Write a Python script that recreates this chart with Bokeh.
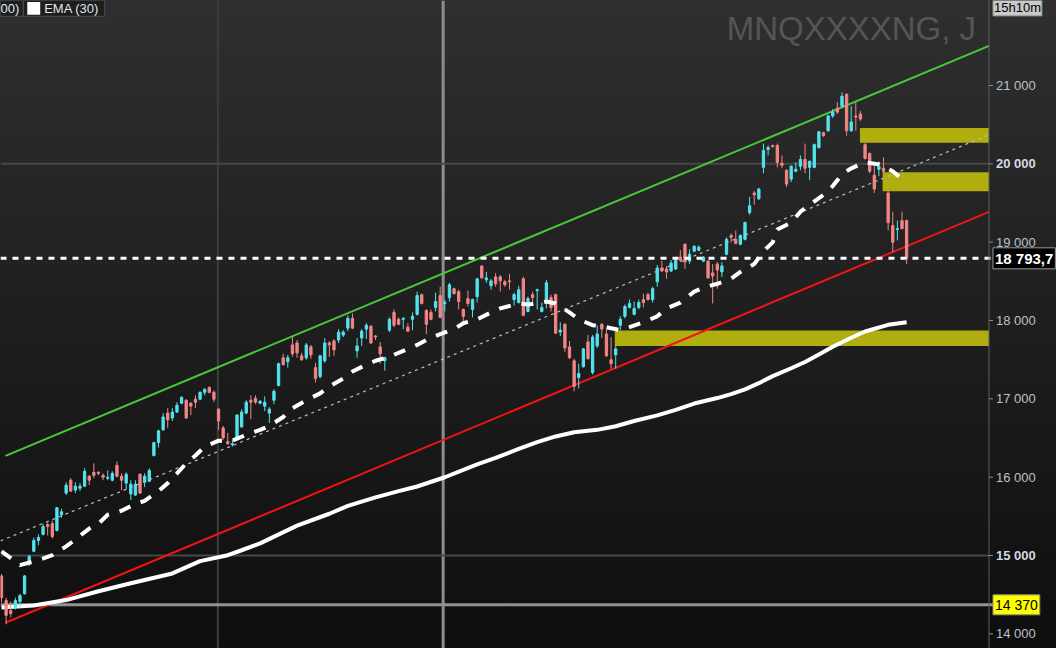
from bokeh.plotting import figure
from bokeh.models import ColumnDataSource, Range1d, Span, Label
from bokeh.core.properties import value
from bokeh.embed import file_html
from bokeh.resources import INLINE

# ---------------- data (daily candles) ----------------
open_ = [14739, 14424, 14298, 14336, 14412, 14512, 14903, 15054, 15193, 15269,
         15394, 15407, 15319, 15520, 15797, 15961, 15835, 15860, 15885, 16012,
         16062, 16062, 16024, 15987, 15961, 16150, 16012, 15924, 15785, 15772,
         16037, 15936, 15948, 16276, 16440, 16604, 16818, 16755, 16831, 16944,
         16982, 16944, 16995, 16995, 17083, 17146, 17083, 16868, 16629, 16453,
         16415, 16503, 16642, 16818, 16982, 17007, 16944, 16907, 16818, 16982,
         17171, 17524, 17474, 17688, 17713, 17549, 17524, 17663, 17398, 17285,
         17486, 17713, 17738, 17751, 17814, 17902, 18028, 17612, 17776, 17890,
         17927, 17801, 17663, 17486, 17877, 18103, 18015, 18015, 17915, 18015,
         18078, 18330, 18129, 18103, 18167, 18318, 18217, 18292, 18406, 18368,
         18141, 18280, 18141, 18305, 18695, 18519, 18443, 18557, 18557, 18494,
         18506, 18267, 18229, 18532, 18116, 18330, 18381, 18116, 18267, 18292,
         18330, 17852, 17952, 17663, 17486, 17272, 17411, 17726, 17335, 17675,
         17952, 17827, 17499, 17562, 17940, 18053, 18167, 18078, 18167, 18267,
         18330, 18267, 18494, 18670, 18658, 18632, 18658, 18809, 18973, 18758,
         18885, 18897, 18758, 18758, 18607, 18720, 18620, 18847, 19086, 19036,
         18973, 19036, 19376, 19628, 19553, 19955, 20182, 20233, 20233, 20006,
         19918, 19805, 19905, 19968, 20056, 19955, 19955, 20207, 20397, 20422,
         20611, 20711, 20736, 20887, 20422, 20611, 20636, 20245, 20132, 19855,
         19930, 19943, 19628, 19212, 19162, 19275, 19275]
high = [14764, 14462, 14412, 14462, 14512, 14752, 15004, 15231, 15269, 15407,
        15420, 15445, 15621, 15596, 15936, 15987, 15936, 15924, 16113, 16024,
        16176, 16075, 16049, 16087, 16075, 16201, 16049, 16062, 15961, 15961,
        16049, 16049, 16113, 16453, 16604, 16818, 16881, 16881, 16957, 17032,
        16995, 16957, 17045, 17096, 17133, 17159, 17108, 16881, 16654, 16566,
        16478, 16805, 16868, 16982, 17045, 17045, 16982, 17032, 16894, 17121,
        17461, 17575, 17562, 17789, 17751, 17587, 17713, 17688, 17461, 17562,
        17776, 17738, 17764, 17890, 17877, 18066, 18091, 17776, 17890, 17965,
        17940, 17814, 17726, 17537, 18040, 18141, 18040, 18040, 17965, 18103,
        18368, 18343, 18141, 18141, 18355, 18431, 18267, 18481, 18418, 18393,
        18154, 18381, 18280, 18544, 18708, 18620, 18532, 18607, 18582, 18519,
        18595, 18355, 18443, 18557, 18305, 18368, 18406, 18229, 18519, 18330,
        18343, 17977, 17965, 17738, 17512, 17449, 17650, 17814, 17814, 17940,
        17965, 17890, 17789, 17675, 18053, 18204, 18267, 18242, 18267, 18343,
        18355, 18431, 18708, 18758, 18695, 18771, 18809, 18897, 18985, 18910,
        18960, 18960, 18822, 18771, 18720, 18746, 18746, 19061, 19111, 19149,
        19099, 19263, 19578, 19654, 19692, 20258, 20233, 20245, 20258, 20107,
        19930, 19981, 20019, 20107, 20258, 20044, 20258, 20422, 20409, 20624,
        20699, 20787, 20912, 20900, 20736, 20787, 20674, 20270, 20145, 19981,
        20031, 20082, 19666, 19389, 19275, 19389, 19288]
low = [14399, 14122, 14210, 14311, 14336, 14500, 14865, 15042, 15130, 15256,
       15256, 15218, 15306, 15483, 15772, 15810, 15797, 15822, 15873, 15898,
       15987, 16024, 15961, 15961, 15948, 15999, 15835, 15848, 15709, 15760,
       15785, 15873, 15936, 16264, 16377, 16591, 16629, 16717, 16818, 16932,
       16742, 16793, 16881, 16982, 17045, 17070, 16957, 16604, 16478, 16415,
       16390, 16491, 16629, 16805, 16742, 16932, 16932, 16843, 16692, 16932,
       17159, 17423, 17398, 17537, 17524, 17486, 17499, 17512, 17209, 17260,
       17461, 17537, 17549, 17713, 17789, 17864, 17890, 17524, 17675, 17764,
       17701, 17751, 17449, 17360, 17852, 17915, 17940, 17890, 17852, 17877,
       18066, 18204, 17827, 18003, 18116, 18028, 18116, 18242, 18330, 18141,
       17990, 18179, 18040, 18229, 18532, 18481, 18393, 18431, 18368, 18431,
       18393, 18192, 18217, 18053, 18103, 18229, 18141, 18103, 18154, 18116,
       17827, 17801, 17600, 17512, 17096, 17133, 17398, 17499, 17310, 17650,
       17776, 17537, 17386, 17386, 17877, 18028, 18154, 18066, 18141, 18167,
       18255, 18229, 18431, 18620, 18532, 18620, 18645, 18758, 18658, 18720,
       18872, 18885, 18746, 18532, 18217, 18406, 18557, 18832, 18998, 18973,
       18960, 19023, 19351, 19477, 19540, 19880, 20107, 20207, 19955, 19943,
       19704, 19767, 19893, 19918, 19880, 19792, 19943, 20195, 20346, 20409,
       20586, 20636, 20711, 20359, 20409, 20422, 20548, 20056, 19880, 19628,
       19842, 19880, 19149, 18872, 19023, 19162, 18720]
close = [14462, 14236, 14260, 14424, 14487, 14739, 14991, 15193, 15231, 15369,
         15369, 15243, 15609, 15558, 15898, 15822, 15885, 15885, 16075, 15961,
         16024, 16049, 15999, 15999, 16049, 16012, 15961, 16037, 15911, 15911,
         15797, 16012, 16087, 16440, 16591, 16768, 16730, 16831, 16919, 17020,
         16755, 16907, 16957, 17083, 17121, 17083, 16995, 16717, 16503, 16428,
         16428, 16793, 16831, 16957, 16957, 16957, 16969, 16957, 16868, 17096,
         17449, 17436, 17524, 17575, 17587, 17499, 17688, 17562, 17260, 17549,
         17713, 17688, 17625, 17852, 17852, 18028, 17902, 17675, 17864, 17940,
         17713, 17789, 17575, 17524, 18015, 17940, 17952, 18028, 17864, 18053,
         18318, 18217, 17952, 18015, 18242, 18040, 18229, 18456, 18343, 18242,
         18053, 18217, 18267, 18532, 18544, 18544, 18506, 18469, 18506, 18456,
         18494, 18330, 18393, 18066, 18280, 18292, 18393, 18167, 18481, 18167,
         17839, 17877, 17650, 17524, 17159, 17323, 17638, 17512, 17789, 17827,
         17890, 17549, 17449, 17638, 18015, 18179, 18217, 18154, 18229, 18229,
         18267, 18406, 18670, 18632, 18620, 18733, 18771, 18771, 18746, 18847,
         18948, 18935, 18809, 18544, 18569, 18645, 18695, 19036, 19061, 18985,
         19086, 19250, 19465, 19603, 19679, 20170, 20207, 20220, 20019, 19981,
         19741, 19968, 19930, 20056, 19943, 20031, 20245, 20409, 20359, 20611,
         20661, 20661, 20862, 20422, 20535, 20598, 20573, 20069, 19905, 19679,
         19968, 19905, 19250, 18998, 19174, 19174, 18793.7]

# moving averages, sampled at candle indices
ema_fast_idx = [0, 4, 8, 11, 14, 16, 19, 21, 23, 26, 29, 31, 34, 36, 38, 40, 42, 44, 47, 50,
                53, 56, 58, 61, 63, 66, 69, 71, 74, 76, 79, 81, 84, 87, 90, 92, 95, 98, 100, 103,
                106, 108, 112, 114, 118, 120, 123, 125, 128, 130, 134, 136, 139, 142, 144, 147,
                150, 152, 155, 158, 160, 163, 165, 167, 168, 171, 173, 175, 178, 180, 182, 184,
                187, 190, 193, 195]
ema_fast_val = [15054, 14878, 14941, 15004, 15117, 15205, 15344, 15407, 15520, 15571,
                15659, 15697, 15822, 15924, 16049, 16176, 16276, 16390, 16466, 16466,
                16541, 16604, 16654, 16768, 16881, 16982, 17070, 17159, 17260, 17348,
                17436, 17486, 17537, 17612, 17688, 17751, 17827, 17890, 17965, 18015,
                18103, 18154, 18217, 18204, 18242, 18217, 18103, 18015, 17940, 17927,
                17877, 17915, 17977, 18053, 18154, 18229, 18368, 18418, 18469, 18532,
                18620, 18720, 18885, 18998, 19162, 19250, 19389, 19477, 19603, 19716,
                19867, 19943, 20019, 19993, 19905, 19805]
ema_slow_idx = [0, 7, 14, 21, 28, 37, 43, 49, 52, 56, 64, 71, 75, 81, 86, 90, 96, 103, 107,
                112, 116, 120, 124, 129, 133, 137, 142, 146, 150, 155, 158, 161, 164, 167,
                171, 174, 177, 180, 184, 187, 192, 196]
ema_slow_val = [14336, 14361, 14431, 14544, 14645, 14771, 14928, 15004, 15067, 15155,
                15382, 15533, 15633, 15742, 15822, 15881, 15999, 16163, 16247, 16360,
                16448, 16520, 16574, 16604, 16650, 16717, 16789, 16860, 16940, 17010,
                17060, 17120, 17200, 17290, 17390, 17470, 17565, 17665, 17780, 17860,
                17945, 17977]

# channel lines (start index/price, end index/price)
channel_top_x = [0.86, 213.84]
channel_top_y = [16272, 21505]
channel_bot_x = [0.86, 213.84]
channel_bot_y = [14141, 19387]
channel_mid_x = [-0.2, 213.84]
channel_mid_y = [15187, 20370]

# supply / demand zones
zone_left = [185.9, 190.8, 132.8]
zone_bottom = [20269, 19651, 17675]
zone_top = [20458, 19891, 17873]

last_price = 18793.7
support_level = 14370
y_ticks = [14000, 15000, 16000, 17000, 18000, 19000, 20000, 21000]
bold_ticks = [15000, 20000]
vgrid_x = [46.85, 95.64]

symbol = "MNQXXXXNG, J"
timer_text = "15h10m"
legend_texts = ["00)", "EMA (30)"]

# ---------------- layout helpers (reference pixel -> data) ----------------
PX_PER_BAR = 4.653
PTS_PER_PX = 12.61


def rx(px):
    return (px - 1) / PX_PER_BAR


def ry(py):
    return 22085 - PTS_PER_PX * py


X_START, X_END = rx(0), rx(1064)
Y_BOTTOM, Y_TOP = ry(656), ry(0)
AXIS_X = rx(996)
FONT = "Liberation Sans"

up_color = "#52e4ee"
down_color = "#f38585"
colors = [up_color if c >= o else down_color for o, c in zip(open_, close)]
src = ColumnDataSource(dict(
    x=list(range(len(close))), o=open_, h=high, l=low, c=close,
    top=[max(o, c) for o, c in zip(open_, close)],
    bottom=[min(o, c) for o, c in zip(open_, close)],
    color=colors))

p = figure(frame_width=1056, frame_height=648,
           x_range=Range1d(X_START, X_END), y_range=Range1d(Y_BOTTOM, Y_TOP),
           output_backend="svg", toolbar_location=None,
           x_axis_location=None, y_axis_location=None, min_border=0)
p.xgrid.visible = False
p.ygrid.visible = False
p.outline_line_color = None
p.background_fill_alpha = 0
p.border_fill_alpha = 0
p.styles = {"background": "linear-gradient(to bottom, #2f2f2f 0%, #1e1e1e 50%, #0e0e0e 100%)"}

# ---------------- grid / reference lines ----------------
p.segment(x0=[X_START] * len(bold_ticks), x1=[AXIS_X] * len(bold_ticks), y0=bold_ticks, y1=bold_ticks,
          line_color="#474747", line_width=2)
p.add_layout(Span(location=vgrid_x[0], dimension="height", line_color="#3d3d3d", line_width=2, level="underlay"))
p.add_layout(Span(location=vgrid_x[1], dimension="height", line_color="#8d8d8d", line_width=3, level="underlay"))
p.segment(x0=[X_START], x1=[rx(1000)], y0=[support_level], y1=[support_level],
          line_color="#939393", line_width=3)

# zones
p.quad(left=zone_left, right=[AXIS_X] * len(zone_left), bottom=zone_bottom, top=zone_top,
       fill_color="#b0ad0e", line_color=None)

# channel
p.line(channel_mid_x, channel_mid_y, line_color="#bdbdbd", line_width=1.2, line_dash="3 4")
p.line(channel_top_x, channel_top_y, line_color="#47c93c", line_width=2)
p.line(channel_bot_x, channel_bot_y, line_color="#f01414", line_width=2)

# slow EMA
p.line(ema_slow_idx, ema_slow_val, line_color="white", line_width=4, line_join="round")

# candles
p.segment(x0="x", y0="h", x1="x", y1="l", source=src, line_color="color", line_width=1)
p.vbar(x="x", top="top", bottom="bottom", width=0.5, source=src,
       fill_color="color", line_color="color", line_width=1)

# fast EMA
p.line(ema_fast_idx, ema_fast_val, line_color="white", line_width=4, line_dash="12 11")

# last price dashed line
p.segment(x0=[X_START], x1=[rx(1000)], y0=[last_price], y1=[last_price],
          line_color="white", line_width=3, line_dash="6 6")

# ---------------- right price axis (drawn in the frame) ----------------
p.segment(x0=[AXIS_X], x1=[AXIS_X], y0=[Y_BOTTOM], y1=[Y_TOP], line_color="#5e5e5e", line_width=1)
p.segment(x0=[AXIS_X] * len(y_ticks), x1=[rx(1000)] * len(y_ticks), y0=y_ticks, y1=y_ticks,
          line_color="#8c8c8c", line_width=1)
normal_ticks = [t for t in y_ticks if t not in bold_ticks]
p.text(x=[rx(1003)] * len(normal_ticks), y=normal_ticks,
       text=[f"{t:,}".replace(",", " ") for t in normal_ticks],
       text_align="left", text_baseline="middle", text_font=value(FONT),
       text_font_size=value("13px"), text_color="#b9c3cd")
p.text(x=[rx(1003)] * len(bold_ticks), y=bold_ticks,
       text=[f"{t:,}".replace(",", " ") for t in bold_ticks],
       text_align="left", text_baseline="middle", text_font=value(FONT),
       text_font_size=value("13px"), text_font_style="bold", text_color="#d3dae2")

# ---------------- texts ----------------
p.add_layout(Label(x=rx(983), y=ry(28.5), text=symbol, text_align="right", text_baseline="alphabetic",
                   text_font=FONT, text_font_size="33px", text_color="#555555"))

# legend boxes (top-left)
p.quad(left=[X_START, rx(23)], right=[rx(23), rx(105)], top=[ry(0), ry(0)], bottom=[ry(16), ry(16)],
       fill_color="#1e1e1e", line_color="#4c4c4c", line_width=1)
p.quad(left=[rx(27)], right=[rx(40)], top=[ry(1.5)], bottom=[ry(14.5)], fill_color="white", line_color=None)
p.add_layout(Label(x=X_START, y=ry(8.5), text=legend_texts[0], text_align="left", text_baseline="middle",
                   text_font=FONT, text_font_size="13px", text_color="#dfe5ec"))
p.add_layout(Label(x=rx(44), y=ry(8.5), text=legend_texts[1], text_align="left", text_baseline="middle",
                   text_font=FONT, text_font_size="13px", text_color="#dfe5ec"))

# timer tag
p.add_layout(Label(x=rx(1000), y=ry(7), text=timer_text, text_align="left", text_baseline="middle",
                   text_font=FONT, text_font_size="13px", text_color="black",
                   background_fill_color="#c9c9c9", border_line_color="#8a8a8a", padding=1))

# price tags
p.add_layout(Label(x=rx(1000), y=last_price,
                   text=f"{last_price:,.1f}".replace(",", " ").replace(".", ","),
                   text_align="left", text_baseline="middle", text_font=FONT, text_font_size="15px",
                   text_font_style="bold", text_color="white",
                   background_fill_color="black", border_line_color="#9a9a9a", padding=2))
p.add_layout(Label(x=rx(1000), y=support_level, text=f"{support_level:,}".replace(",", " "),
                   text_align="left", text_baseline="middle", text_font=FONT, text_font_size="14px",
                   text_color="black", background_fill_color="#ffff00", border_line_color="#8a8a8a",
                   padding=2))

open("out.html", "w").write(file_html(p, INLINE))
